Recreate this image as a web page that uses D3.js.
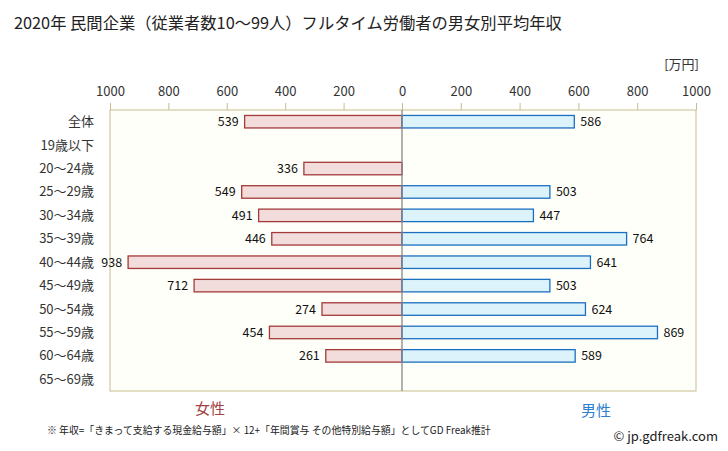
<!DOCTYPE html>
<html><head><meta charset="utf-8">
<script src="https://cdn.jsdelivr.net/npm/d3@7"></script>
<style>body{margin:0;background:#fff;}text{font-family:"Noto Sans CJK JP","Noto Sans",sans-serif;}</style>
</head><body><svg id="c" width="728" height="451"></svg>
<script>
const categories = ["全体","19歳以下","20〜24歳","25〜29歳","30〜34歳","35〜39歳","40〜44歳","45〜49歳","50〜54歳","55〜59歳","60〜64歳","65〜69歳"];
const female = [539,null,336,549,491,446,938,712,274,454,261,null];
const male = [586,null,null,503,447,764,641,503,624,869,589,null];
const tickValues = [0,200,400,600,800,1000];

const svg = d3.select("#c");
const L = 110, R = 696, T = 110, B = 391, C = 402;
const xL = d3.scaleLinear().domain([0,1000]).range([C, L]);
const xR = d3.scaleLinear().domain([0,1000]).range([C, R]);
const y = d3.scaleBand().domain(categories).range([T, B]);
const bh = 12.5;

svg.append("rect").attr("x",L).attr("y",T).attr("width",R-L).attr("height",B-T)
  .attr("fill","#fffffa").attr("stroke","#c8bd8e").attr("stroke-width",1);

svg.append("text").attr("x",14).attr("y",29).attr("font-size",16.3).attr("fill","#222")
  .text("2020年 民間企業（従業者数10〜99人）フルタイム労働者の男女別平均年収");
svg.append("text").attr("x",699).attr("y",69).attr("text-anchor","end").attr("font-size",13).attr("fill","#333").text("[万円]");

// axes
const axL = d3.axisTop(xL).tickValues(tickValues).tickFormat(d3.format("d")).tickSize(7).tickPadding(7);
const axR = d3.axisTop(xR).tickValues(tickValues.slice(1)).tickFormat(d3.format("d")).tickSize(7).tickPadding(7);
[axL, axR].forEach(ax => {
  const g = svg.append("g").attr("transform",`translate(0,${T})`).call(ax);
  g.select(".domain").remove();
  g.selectAll("line").attr("stroke","#c8bd8e");
  g.selectAll("text").attr("font-size",13).attr("fill","#333").attr("font-family","'Noto Sans CJK JP','Noto Sans',sans-serif");
});

// category labels
svg.append("g").selectAll("text").data(categories).join("text")
  .attr("x",94).attr("y",d=>y(d)+y.bandwidth()/2+4.5).attr("text-anchor","end")
  .attr("font-size",13).attr("fill","#333").text(d=>d);

const fData = categories.map((c,i)=>({c,v:female[i]})).filter(d=>d.v!=null);
const mData = categories.map((c,i)=>({c,v:male[i]})).filter(d=>d.v!=null);

svg.append("g").selectAll("rect").data(fData).join("rect")
  .attr("x",d=>xL(d.v)).attr("y",d=>y(d.c)+y.bandwidth()/2-bh/2)
  .attr("width",d=>C-xL(d.v)).attr("height",bh)
  .attr("fill","#f2dcdc").attr("stroke","#a33a3a").attr("stroke-width",1.3);
svg.append("g").selectAll("rect").data(mData).join("rect")
  .attr("x",C).attr("y",d=>y(d.c)+y.bandwidth()/2-bh/2)
  .attr("width",d=>xR(d.v)-C).attr("height",bh)
  .attr("fill","#dcf3fc").attr("stroke","#1b6fc0").attr("stroke-width",1.3);

svg.append("line").attr("x1",C).attr("x2",C).attr("y1",T).attr("y2",B).attr("stroke","#888").attr("stroke-width",1.3);

svg.append("g").selectAll("text").data(fData).join("text")
  .attr("x",d=>xL(d.v)-6).attr("y",d=>y(d.c)+y.bandwidth()/2+4.5).attr("text-anchor","end")
  .attr("font-size",12.5).attr("fill","#111").text(d=>d.v);
svg.append("g").selectAll("text").data(mData).join("text")
  .attr("x",d=>xR(d.v)+6).attr("y",d=>y(d.c)+y.bandwidth()/2+4.5)
  .attr("font-size",12.5).attr("fill","#111").text(d=>d.v);

svg.append("text").attr("x",210).attr("y",414).attr("text-anchor","middle").attr("font-size",15).attr("fill","#a04040").text("女性");
svg.append("text").attr("x",596).attr("y",416).attr("text-anchor","middle").attr("font-size",15).attr("fill","#2a80d0").text("男性");
svg.append("text").attr("x",47).attr("y",434).attr("font-size",9.9).attr("fill","#222")
  .text("※ 年収=「きまって支給する現金給与額」× 12+「年間賞与 その他特別給与額」としてGD Freak推計");
svg.append("text").attr("x",718).attr("y",441).attr("text-anchor","end").attr("font-size",13).attr("fill","#222").text("© jp.gdfreak.com");
</script></body></html>
